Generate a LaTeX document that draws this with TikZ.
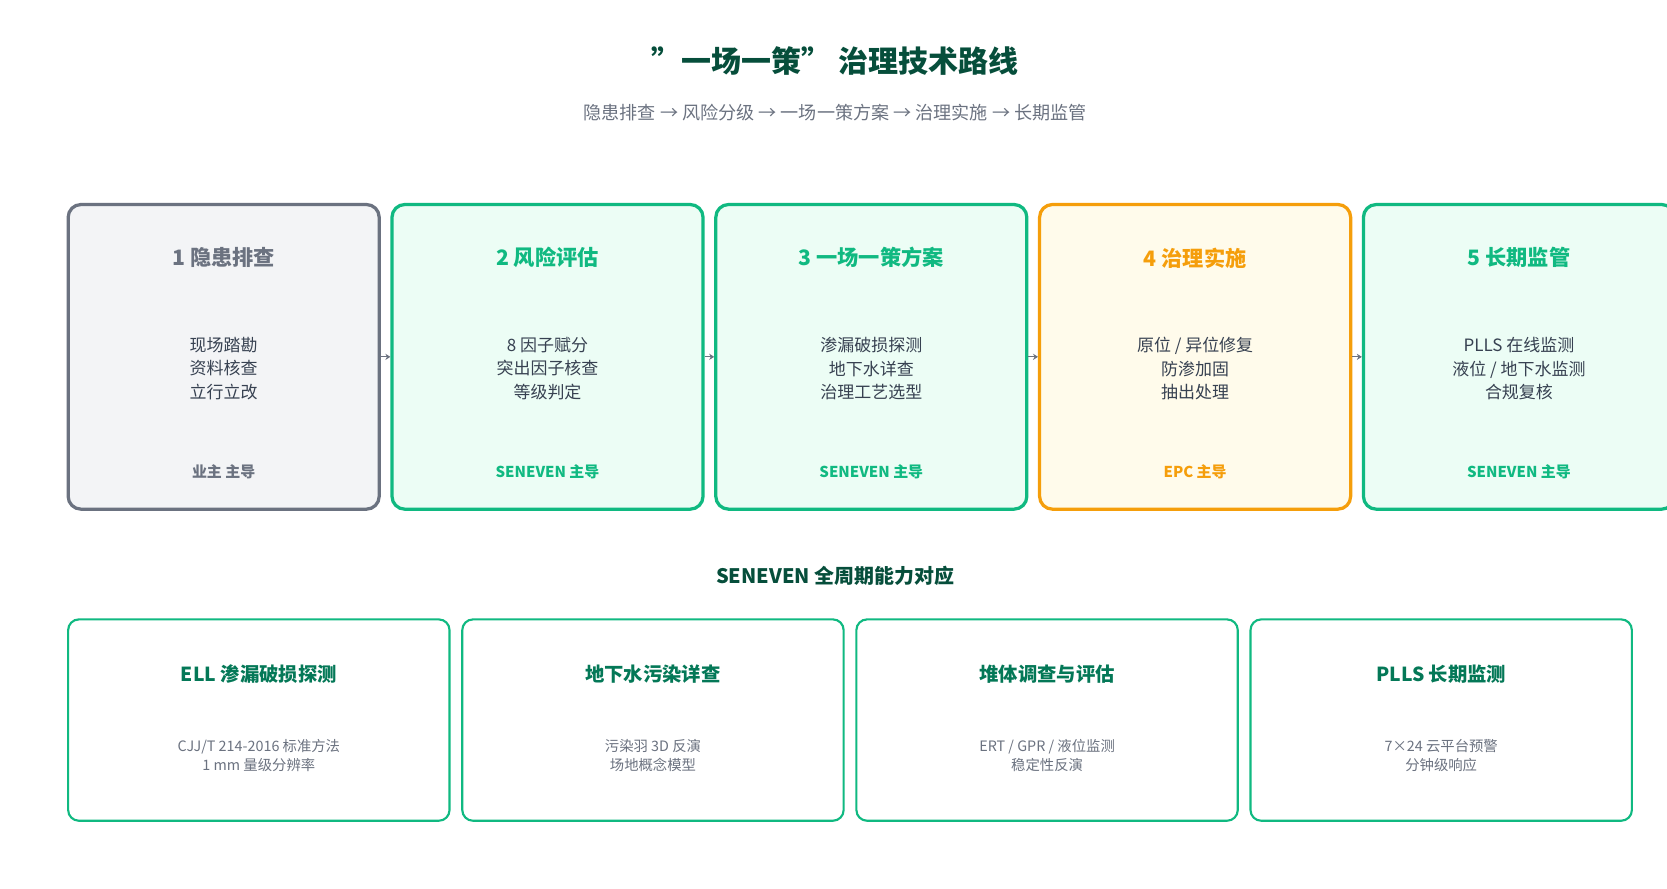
\documentclass[tikz,border=0pt]{standalone}
\usepackage{fontspec}
\setmainfont{Noto Sans CJK SC}
\usetikzlibrary{arrows.meta}
\definecolor{darkgreen}{HTML}{064E3B}
\definecolor{midgreen}{HTML}{047857}
\definecolor{green}{HTML}{10B981}
\definecolor{greenfill}{HTML}{ECFDF5}
\definecolor{gray}{HTML}{6B7280}
\definecolor{grayfill}{HTML}{F3F4F6}
\definecolor{orange}{HTML}{F59E0B}
\definecolor{orangefill}{HTML}{FFFBEB}
\definecolor{bodytext}{HTML}{374151}
\tikzset{
  stage/.style={draw=#1,line width=2.6pt,rounded corners=0.36cm,minimum width=8.76cm,minimum height=8.58cm,inner sep=0pt},
  card/.style={draw=green,line width=1.7pt,fill=white,rounded corners=0.3cm,minimum width=10.74cm,minimum height=5.67cm,inner sep=0pt},
  head/.style={font=\bfseries\fontsize{17pt}{20pt}\selectfont,text=#1},
  body/.style={font=\fontsize{13.6pt}{18.8pt}\selectfont,text=bodytext,align=center},
  lead/.style={font=\bfseries\fontsize{12pt}{14pt}\selectfont,text=#1}
}
\begin{document}
\begin{tikzpicture}[x=0.03cm,y=-0.03cm]
\useasboundingbox (0,0) rectangle (1565,834);

\node (title) [text=darkgreen,font=\bfseries\fontsize{24pt}{28pt}\selectfont] at (784,57) {"一场一策" 治理技术路线};
\node (sub) [text=gray,font=\fontsize{14.5pt}{17pt}\selectfont] at (784,106) {隐患排查 → 风险分级 → 一场一策方案 → 治理实施 → 长期监管};

\begin{scope}
    \node (A)[stage=gray,fill=grayfill] at (210,335) {};
    \node (B)[stage=green,fill=greenfill] at (514,335) {};
    \node (C)[stage=green,fill=greenfill] at (818,335) {};
    \node (D)[stage=orange,fill=orangefill] at (1122,335) {};
    \node (E)[stage=green,fill=greenfill] at (1426,335) {};
\end{scope}

\begin{scope}[every edge/.style={draw=gray,line width=0.8pt,-{Stealth[length=4pt,width=5pt]}}]
    \path (A.east) edge (B.west);
    \path (B.east) edge (C.west);
    \path (C.east) edge (D.west);
    \path (D.east) edge (E.west);
\end{scope}

\node (A1)[head=gray] at (210,242) {1 隐患排查};
\node (A2)[body] at (210,346) {现场踏勘\\资料核查\\立行立改};
\node (A3)[lead=gray] at (210,443) {业主 主导};
\node (B1)[head=green] at (514,242) {2 风险评估};
\node (B2)[body] at (514,346) {8 因子赋分\\突出因子核查\\等级判定};
\node (B3)[lead=green] at (514,443) {SENEVEN 主导};
\node (C1)[head=green] at (818,242) {3 一场一策方案};
\node (C2)[body] at (818,346) {渗漏破损探测\\地下水详查\\治理工艺选型};
\node (C3)[lead=green] at (818,443) {SENEVEN 主导};
\node (D1)[head=orange] at (1122,242) {4 治理实施};
\node (D2)[body] at (1122,346) {原位 / 异位修复\\防渗加固\\抽出处理};
\node (D3)[lead=orange] at (1122,443) {EPC 主导};
\node (E1)[head=green] at (1426,242) {5 长期监管};
\node (E2)[body] at (1426,346) {PLLS 在线监测\\液位 / 地下水监测\\合规复核};
\node (E3)[lead=green] at (1426,443) {SENEVEN 主导};

\node (cap) [text=darkgreen,font=\bfseries\fontsize{16pt}{19pt}\selectfont] at (784,541) {SENEVEN 全周期能力对应};

\begin{scope}[every node/.style={font=\fontsize{11.5pt}{15.3pt}\selectfont,text=gray,align=center}]
    \node (P)[card] at (243,676) {};
    \node (Q)[card] at (613,676) {};
    \node (R)[card] at (983,676) {};
    \node (S)[card] at (1353,676) {};
    \node (P2) at (243,709) {CJJ/T 214-2016 标准方法\\1 mm 量级分辨率};
    \node (Q2) at (613,709) {污染羽 3D 反演\\场地概念模型};
    \node (R2) at (983,709) {ERT / GPR / 液位监测\\稳定性反演};
    \node (S2) at (1353,709) {7×24 云平台预警\\分钟级响应};
\end{scope}

\begin{scope}[every node/.style={font=\bfseries\fontsize{15.5pt}{18pt}\selectfont,text=midgreen}]
    \node (P1) at (243,633) {ELL 渗漏破损探测};
    \node (Q1) at (613,633) {地下水污染详查};
    \node (R1) at (983,633) {堆体调查与评估};
    \node (S1) at (1353,633) {PLLS 长期监测};
\end{scope}
\end{tikzpicture}
\end{document}
